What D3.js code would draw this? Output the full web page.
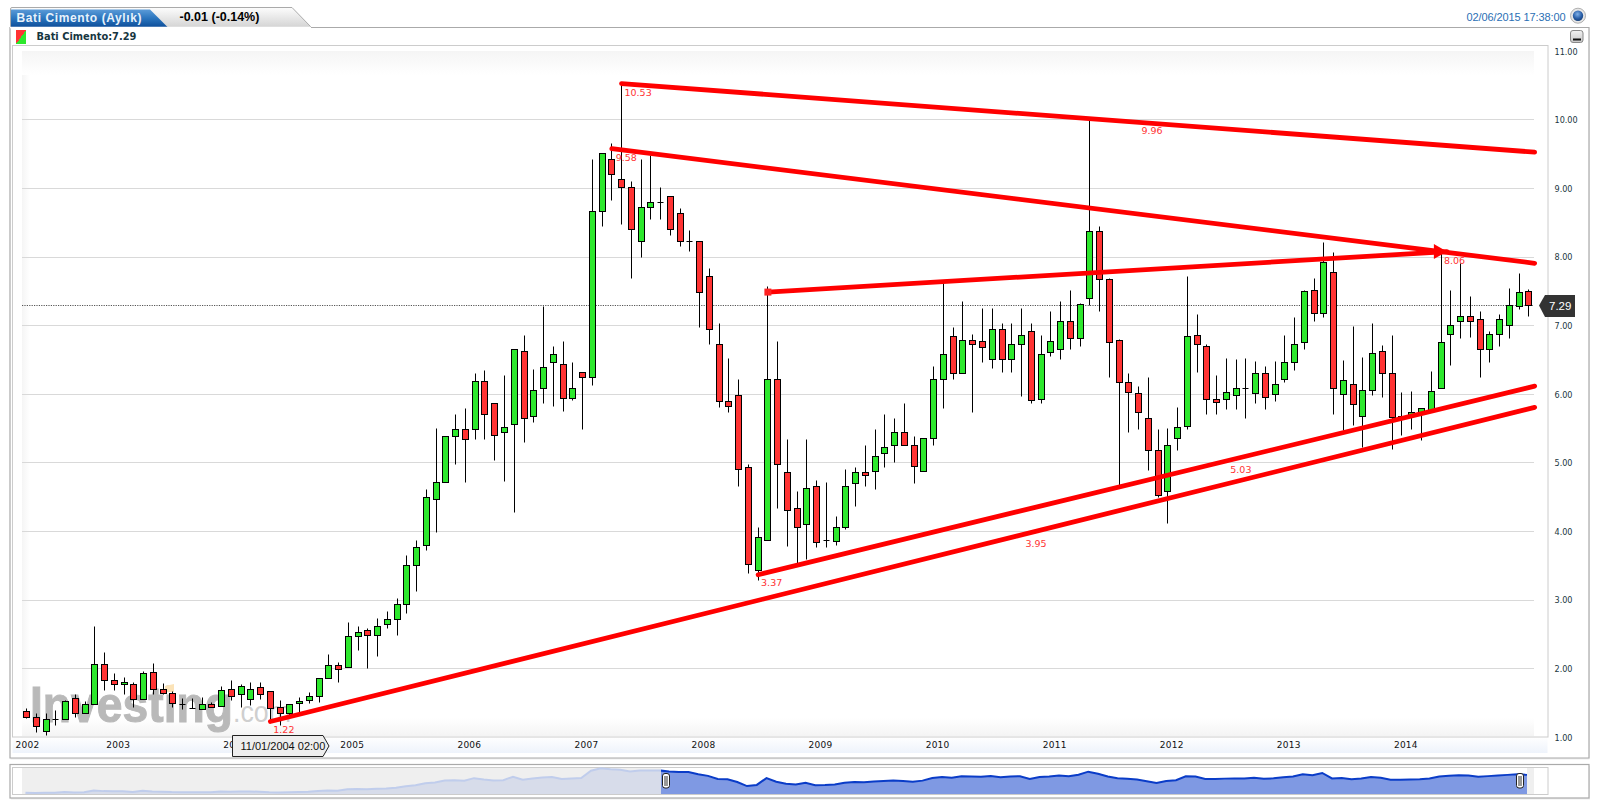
<!DOCTYPE html>
<html><head><meta charset="utf-8">
<script src="https://d3js.org/d3.v7.min.js"></script>
<style>
html,body{margin:0;padding:0;background:#fff;overflow:hidden}
svg{display:block}
text{font-family:"DejaVu Sans",sans-serif}
</style></head><body>
<svg id="c" width="1600" height="807"></svg>
<script>
const opens=[1.38,1.29,1.09,1.26,1.26,1.57,1.35,1.48,2.06,1.83,
1.77,1.77,1.55,1.95,1.69,1.64,1.48,1.42,1.41,1.48,
1.45,1.70,1.63,1.55,1.73,1.67,1.44,1.34,1.50,1.53,
1.60,1.86,2.05,2.02,2.47,2.56,2.49,2.65,2.71,2.94,
3.50,3.80,4.47,4.72,5.39,5.49,5.49,6.19,5.87,5.45,
5.56,6.63,5.68,6.09,6.47,6.44,5.94,6.32,6.25,8.67,
9.43,9.13,9.02,8.23,8.72,8.79,8.88,8.63,8.23,8.23,
7.72,6.73,5.90,5.98,4.93,3.43,3.87,6.22,4.86,4.34,
4.10,4.66,3.87,3.85,4.06,4.70,4.86,4.88,5.14,5.25,
5.44,5.25,4.88,5.36,6.22,6.84,6.30,6.79,6.77,6.51,
6.94,6.50,6.72,6.91,5.92,6.61,6.65,7.06,6.81,7.39,
8.37,7.67,6.78,6.17,6.01,5.64,5.18,4.58,5.35,5.53,
6.85,6.69,5.92,5.92,5.98,6.08,6.01,6.30,6.00,6.21,
6.46,6.75,7.51,7.18,7.77,6.00,6.14,5.67,6.05,6.62,
6.31,5.63,5.67,5.73,5.77,6.09,6.87,7.06,7.14,7.09,
6.65,6.87,7.00,7.28,7.50];
const highs=[1.42,1.34,1.34,1.39,1.53,1.62,1.52,2.62,2.23,1.93,
1.87,1.80,1.96,2.08,1.78,1.67,1.56,1.57,1.58,1.51,
1.74,1.83,1.77,1.80,1.80,1.67,1.53,1.48,1.58,1.66,
1.86,2.21,2.09,2.68,2.62,2.59,2.73,2.84,3.03,3.65,
3.87,4.61,5.50,5.39,5.71,5.79,6.30,6.34,5.87,6.28,
6.66,6.85,6.36,7.28,6.70,6.77,6.47,6.32,9.43,9.51,
9.66,10.53,9.10,9.42,9.48,9.02,8.88,8.71,8.39,8.23,
7.84,7.03,6.52,6.22,4.98,4.06,7.57,6.77,5.34,4.58,
5.34,4.74,4.71,4.22,4.90,4.94,5.26,5.48,5.70,5.65,
5.87,5.39,5.36,6.40,7.66,6.97,7.35,6.87,7.25,7.25,
7.03,7.03,7.25,7.03,6.85,7.21,7.35,7.51,7.33,10.00,
8.45,7.69,6.80,6.30,6.12,6.24,5.48,5.50,5.81,7.72,
7.16,6.72,6.27,6.52,6.50,6.52,6.48,6.41,6.48,6.85,
7.12,7.51,7.69,8.21,8.06,6.49,6.99,6.53,7.03,6.71,
6.85,6.03,6.04,5.80,6.33,8.05,7.51,7.90,7.43,7.20,
6.91,7.16,7.54,7.76,7.53];
const lows=[1.28,1.07,1.02,1.17,1.26,1.29,1.35,1.48,1.68,1.68,
1.62,1.43,1.55,1.62,1.62,1.43,1.40,1.42,1.41,1.44,
1.45,1.53,1.44,1.47,1.55,1.23,1.17,1.30,1.35,1.49,
1.51,1.86,1.80,2.02,2.27,2.01,2.18,2.59,2.49,2.81,
3.13,3.72,3.99,4.72,4.98,4.72,5.34,5.34,5.03,4.73,
4.27,5.30,5.59,5.86,5.82,5.75,5.91,5.49,6.13,8.44,
8.82,8.47,7.69,8.00,8.55,8.55,8.32,8.16,8.08,6.98,
6.73,5.81,5.74,4.66,3.39,3.28,3.87,4.34,3.78,3.53,
3.59,3.76,3.77,3.79,4.03,4.37,4.65,4.61,4.94,5.00,
5.25,4.70,4.88,5.26,5.79,6.22,6.30,5.74,6.46,6.37,
6.32,6.32,5.97,5.86,5.87,6.55,6.50,6.65,6.69,7.29,
7.21,6.24,4.67,5.44,5.48,4.89,4.49,4.12,5.18,5.48,
6.32,5.70,5.70,5.78,5.78,5.64,5.86,5.78,5.89,6.17,
6.35,6.66,7.06,7.12,5.70,5.47,5.55,5.23,5.98,5.96,
5.20,5.40,5.48,5.32,5.77,6.09,6.42,6.82,6.83,6.25,
6.47,6.70,6.81,7.23,7.14];
const closes=[1.29,1.16,1.26,1.26,1.52,1.35,1.48,2.06,1.83,1.77,
1.80,1.55,1.93,1.69,1.64,1.50,1.48,1.42,1.48,1.44,
1.68,1.60,1.74,1.69,1.63,1.42,1.35,1.48,1.52,1.60,
1.86,2.05,1.99,2.47,2.53,2.49,2.62,2.72,2.93,3.50,
3.77,4.50,4.72,5.39,5.49,5.34,6.19,5.71,5.40,5.52,
6.66,5.64,6.06,6.39,6.58,5.94,6.09,6.25,8.67,9.51,
9.20,9.02,8.40,8.72,8.79,8.79,8.40,8.23,8.23,7.49,
6.95,5.90,5.82,4.90,3.52,3.91,6.22,4.98,4.31,4.06,
4.63,3.84,3.87,4.06,4.66,4.86,4.82,5.09,5.23,5.44,
5.25,4.95,5.36,6.22,6.58,6.30,6.79,6.73,6.68,6.95,
6.50,6.72,6.85,5.91,6.58,6.77,7.06,6.81,7.31,8.37,
7.67,6.75,6.17,6.02,5.73,5.18,4.53,5.26,5.51,6.84,
6.72,5.92,5.88,6.03,6.08,6.08,6.30,5.96,6.14,6.46,
6.72,7.50,7.18,7.92,6.09,6.20,5.85,6.05,6.59,6.31,
5.66,5.67,5.73,5.79,6.04,6.75,7.00,7.14,7.06,6.65,
6.87,7.09,7.29,7.48,7.29];

const yearLabels=["2002","2003","2004","2005","2006","2007","2008","2009","2010","2011","2012","2013","2014"];
const yearIndex=[-1.3,8,20,32,44,56,68,80,92,104,116,128,140];
const priceTicks=[1,2,3,4,5,6,7,8,9,10,11];
const gridValues=[2,3,4,5,6,7,8,9,10];
const lastPrice=7.29;

// trend lines: [start index, start price, end index, end price]
const trendUpperFalling=[61,10.53,154.6,9.53];
const trendLowerFalling=[60,9.58,154.6,7.91];
const trendRising=[76,7.49,145.6,8.08];
const trendSupportHigh=[75,3.37,154.6,6.12];
const trendSupportLow=[25,1.23,154.6,5.81];

const annoText=["10.53","9.58","9.96","8.06","5.03","3.95","3.37","1.22"];
const annoIndex=[61.3,60.4,114.3,145.3,123.4,102.4,75.3,25.3];
const annoPrice=[10.40,9.45,9.84,7.95,4.90,3.83,3.25,1.12];

const title="Bati Cimento (Aylık)", change="-0.01 (-0.14%)", legendText="Bati Cimento:7.29";
const stamp="02/06/2015 17:38:00", tooltipText="11/01/2004 02:00";

const svg=d3.select("#c");
const defs=svg.append("defs");
function lg(id,x2,y2,stops){
  const g=defs.append("linearGradient").attr("id",id).attr("x1",0).attr("y1",0).attr("x2",x2).attr("y2",y2);
  stops.forEach(s=>g.append("stop").attr("offset",s[0]).attr("stop-color",s[1]));
}
lg("gBlue",0,1,[[0,"#5b9bd8"],[.5,"#2a74bd"],[1,"#0c4c98"]]);
lg("gTab",0,1,[[0,"#fdfdfd"],[1,"#d4d4d4"]]);
lg("gBand",0,1,[[0,"#ffffff"],[1,"#eef3fb"]]);
lg("gTop",0,1,[[0,"#f5f5f5"],[1,"#ffffff"]]);
lg("gBot",0,1,[[0,"#ffffff"],[1,"#f4f4f4"]]);
lg("gLeft",1,0,[[0,"#f5f5f5"],[1,"#ffffff"]]);
lg("gBtn",0,1,[[0,"#f2f2f2"],[1,"#c8c8c8"]]);
lg("gIcon",1,1,[[0,"#ff3333"],[.5,"#ff3333"],[.5,"#2de82d"],[1,"#2de82d"]]);
const rg=defs.append("radialGradient").attr("id","gGlobe").attr("cx",.45).attr("cy",.35).attr("r",.7);
rg.append("stop").attr("offset",0).attr("stop-color","#7fb0e8");
rg.append("stop").attr("offset",.6).attr("stop-color","#2a5fa8");
rg.append("stop").attr("offset",1).attr("stop-color","#123a70");

const x=d3.scaleLinear().domain([0,154]).range([26.5,1528.8]);
const y=d3.scaleLinear().domain([1,11]).range([737.3,51.3]);
const cx=i=>Math.floor(x(i))+.5;
const cy=v=>Math.floor(y(v))+.5;
const rows=d3.range(opens.length);

// Header tab
svg.append("path").attr("d","M10.5,27 L10.5,9 Q10.5,7.5 12,7.5 L292,7.5 L311,27").attr("fill","url(#gTab)").attr("stroke","#aaa");
svg.append("path").attr("d","M11,27.5 L11,9.5 L150,9.5 L168,27.5 Z").attr("fill","url(#gBlue)");
svg.append("text").text(title).attr("x",16.5).attr("y",21.5).attr("fill","#e8f2fb")
  .style("font-family","Liberation Sans").style("font-weight","bold").style("font-size","12px").style("letter-spacing",".6px");
svg.append("text").text(change).attr("x",179.5).attr("y",21).attr("fill","#000")
  .style("font-family","Liberation Sans").style("font-weight","bold").style("font-size","12.5px");
svg.append("text").text(stamp).attr("x",1466.5).attr("y",21).attr("fill","#2a6fb5")
  .style("font-family","Liberation Sans").style("font-size","11px").style("letter-spacing","-.1px");
svg.append("circle").attr("cx",1578).attr("cy",15.7).attr("r",7.5).attr("fill","#e6e6e6").attr("stroke","#b0b0b0");
svg.append("circle").attr("cx",1578).attr("cy",15.7).attr("r",5.2).attr("fill","url(#gGlobe)");

// Main panel
svg.append("rect").attr("x",10.5).attr("y",28.5).attr("width",1579).attr("height",731).attr("fill","#ccc").attr("opacity",.35);
svg.append("path").attr("d","M10,27.5 L10,758 L1589,758 L1589,27.5 Z").attr("fill","#fff").attr("stroke","#aaa").attr("stroke-width",1.2);
svg.append("line").attr("x1",10).attr("x2",311).attr("y1",27.5).attr("y2",27.5).attr("stroke","#fff").attr("stroke-width",1.5);
svg.append("rect").attr("x",12.5).attr("y",737).attr("width",1535).attr("height",16).attr("fill","url(#gBand)");
svg.append("rect").attr("x",12.5).attr("y",45.5).attr("width",1535.5).attr("height",691.5).attr("fill","#fff").attr("stroke","#ccc");
svg.append("rect").attr("x",22).attr("y",51).attr("width",8).attr("height",685).attr("fill","url(#gLeft)");
svg.append("rect").attr("x",22).attr("y",51).attr("width",1512).attr("height",24).attr("fill","url(#gTop)");
svg.append("rect").attr("x",22).attr("y",718).attr("width",1512).attr("height",18).attr("fill","url(#gBot)");
svg.append("rect").attr("x",16).attr("y",30).attr("width",10).attr("height",14).attr("fill","url(#gIcon)");
svg.append("text").text(legendText).attr("x",36.5).attr("y",40).attr("fill","#17363f")
  .style("font-weight","bold").style("font-size","9.85px");
svg.append("rect").attr("x",1570.5).attr("y",30.5).attr("width",12.5).attr("height",12).attr("rx",2.5).attr("fill","url(#gBtn)").attr("stroke","#888");
svg.append("rect").attr("x",1573).attr("y",38.5).attr("width",8).attr("height",2).attr("fill","#111");

// Grid
svg.append("g").selectAll("line").data(gridValues).join("line")
  .attr("x1",22).attr("x2",1534).attr("y1",d=>cy(d)).attr("y2",d=>cy(d)).attr("stroke","#d9d9d9");

// Watermark
const wm=svg.append("g");
wm.append("text").text("Investing").attr("x",30).attr("y",722).attr("fill","#b9b9b9").attr("stroke","#b9b9b9").attr("stroke-width",1)
  .attr("textLength",203).attr("lengthAdjust","spacingAndGlyphs")
  .style("font-family","Liberation Sans").style("font-weight","bold").style("font-size","50px");
wm.append("text").text(".com").attr("x",233).attr("y",722).attr("fill","#cfcfcf")
  .attr("textLength",58).attr("lengthAdjust","spacingAndGlyphs")
  .style("font-family","Liberation Sans").style("font-size","29px");
wm.append("path").attr("d","M165,686 L174,684 L174,692 L165,692 Z").attr("fill","#fbe3b8");

// Axes
const yAxis=d3.axisRight(y).tickValues(priceTicks).tickFormat(d3.format(".2f")).tickSize(0);
const yg=svg.append("g").attr("transform","translate(1548,0)").call(yAxis);
yg.select(".domain").remove();
yg.selectAll("text").attr("x",6.5).attr("fill","#1c3742")
  .style("font-family","DejaVu Sans").style("font-stretch","condensed").style("font-size","9px");
const xAxis=d3.axisBottom(x).tickValues(yearIndex).tickFormat((d,i)=>yearLabels[i]).tickSize(0);
const xg=svg.append("g").attr("transform","translate(0,737)").call(xAxis);
xg.select(".domain").remove();
xg.selectAll("text").attr("y",4.5).attr("dy",".71em").attr("dx",1.2).attr("text-anchor","start").attr("fill","#111")
  .style("font-family","DejaVu Sans").style("font-size","9px").style("letter-spacing",".25px");

// Last price line
svg.append("line").attr("x1",22).attr("x2",1534).attr("y1",cy(lastPrice)).attr("y2",cy(lastPrice))
  .attr("stroke","#555").attr("stroke-dasharray","1.2,1.2");

// Candles
const cg=svg.append("g");
cg.selectAll("line.w").data(rows).join("line").attr("class","w")
  .attr("x1",cx).attr("x2",cx).attr("y1",i=>cy(highs[i])).attr("y2",i=>cy(lows[i]))
  .attr("stroke","#000").attr("stroke-width",1);
cg.selectAll("rect").data(rows.filter(i=>opens[i]!==closes[i])).join("rect")
  .attr("x",i=>cx(i)-3).attr("width",6)
  .attr("y",i=>cy(Math.max(opens[i],closes[i])))
  .attr("height",i=>Math.max(1,cy(Math.min(opens[i],closes[i]))-cy(Math.max(opens[i],closes[i]))))
  .attr("fill",i=>closes[i]>opens[i]?"#2de82d":"#ff3333")
  .attr("stroke","#000").attr("stroke-width",1);
cg.selectAll("line.d").data(rows.filter(i=>opens[i]===closes[i])).join("line").attr("class","d")
  .attr("x1",i=>cx(i)-3).attr("x2",i=>cx(i)+3).attr("y1",i=>cy(opens[i])).attr("y2",i=>cy(opens[i]))
  .attr("stroke","#000").attr("stroke-width",1);

// Trend lines
const tl=svg.append("g").attr("stroke","#ff0000").attr("stroke-width",4.8).attr("stroke-linecap","round").attr("fill","none");
[trendUpperFalling,trendLowerFalling,trendRising,trendSupportHigh,trendSupportLow].forEach(t=>{
  tl.append("line").attr("x1",x(t[0])).attr("y1",y(t[1])).attr("x2",x(t[2])).attr("y2",y(t[3]));
});
svg.append("rect").attr("x",x(trendRising[0])-3.5).attr("y",y(trendRising[1])-3.5).attr("width",7).attr("height",7).attr("fill","#f22");
{
  const ax=x(trendRising[2]), ay=y(trendRising[3]);
  svg.append("path").attr("d",`M${ax},${ay} L${ax-13},${ay-7.5} L${ax-13},${ay+7.5} Z`).attr("fill","#ff0000");
}
svg.append("g").selectAll("text").data(annoText).join("text").text(d=>d)
  .attr("x",(d,i)=>x(annoIndex[i])).attr("y",(d,i)=>y(annoPrice[i])+3.5)
  .attr("fill","#ff3333").style("font-size","9.5px");

// Last price badge
svg.append("path").attr("d",`M1539,${cy(lastPrice)} L1545,295 L1575,295 L1575,317 L1545,317 Z`).attr("fill","#333");
svg.append("text").text(lastPrice.toFixed(2)).attr("x",1549).attr("y",310).attr("fill","#fff")
  .style("font-family","Liberation Sans").style("font-size","11.5px");

// Tooltip
svg.append("path").attr("d","M232.5,735.5 L323,735.5 L329,746 L323,756.5 L232.5,756.5 Z").attr("fill","#eee").attr("stroke","#222");
svg.append("text").text(tooltipText).attr("x",240.5).attr("y",750).attr("fill","#111")
  .style("font-family","Liberation Sans").style("font-size","11px");

// Navigator
svg.append("rect").attr("x",11).attr("y",766).attr("width",1579).attr("height",33.5).attr("fill","#ccc").attr("opacity",.35);
svg.append("rect").attr("x",10).attr("y",764.5).attr("width",1579).attr("height",33.5).attr("fill","#fff").attr("stroke","#aaa").attr("stroke-width",1.2);
svg.append("rect").attr("x",12.5).attr("y",767.5).attr("width",1535.5).attr("height",27).attr("fill","#fff").attr("stroke","#ccc");
svg.append("rect").attr("x",22).attr("y",768).attr("width",639).attr("height",26).attr("fill","#efefef");
svg.append("rect").attr("x",1527).attr("y",768).attr("width",7).attr("height",26).attr("fill","#efefef");
const nx=d3.scaleLinear().domain([0,154]).range([25.5,1527]);
const ny=d3.scaleLinear().domain([1.3,9.5]).range([792.7,768.3]);
const navArea=d3.area().x(i=>nx(i)).y0(794).y1(i=>ny(closes[i]));
const navLine=d3.line().x(i=>nx(i)).y(i=>ny(closes[i]));
defs.append("clipPath").attr("id","cL").append("rect").attr("x",0).attr("y",760).attr("width",661).attr("height",40);
defs.append("clipPath").attr("id","cR").append("rect").attr("x",661).attr("y",760).attr("width",939).attr("height",40);
const nl=svg.append("g").attr("clip-path","url(#cL)");
nl.append("path").attr("d",navArea(rows)).attr("fill","#d7dcea");
nl.append("path").attr("d",navLine(rows)).attr("fill","none").attr("stroke","#c0cdec").attr("stroke-width",2);
const nr=svg.append("g").attr("clip-path","url(#cR)");
nr.append("path").attr("d",navArea(rows)).attr("fill","#7f99e3");
nr.append("path").attr("d",navLine(rows)).attr("fill","none").attr("stroke","#0a3cc8").attr("stroke-width",2);
[666,1520].forEach(hx=>{
  svg.append("rect").attr("x",hx-3.5).attr("y",773.5).attr("width",7).attr("height",14.5).attr("rx",2.5).attr("fill","#fff").attr("stroke","#222");
  svg.append("line").attr("x1",hx-1).attr("x2",hx-1).attr("y1",776).attr("y2",786).attr("stroke","#333");
  svg.append("line").attr("x1",hx+1).attr("x2",hx+1).attr("y1",776).attr("y2",786).attr("stroke","#333");
});
</script>
</body></html>
